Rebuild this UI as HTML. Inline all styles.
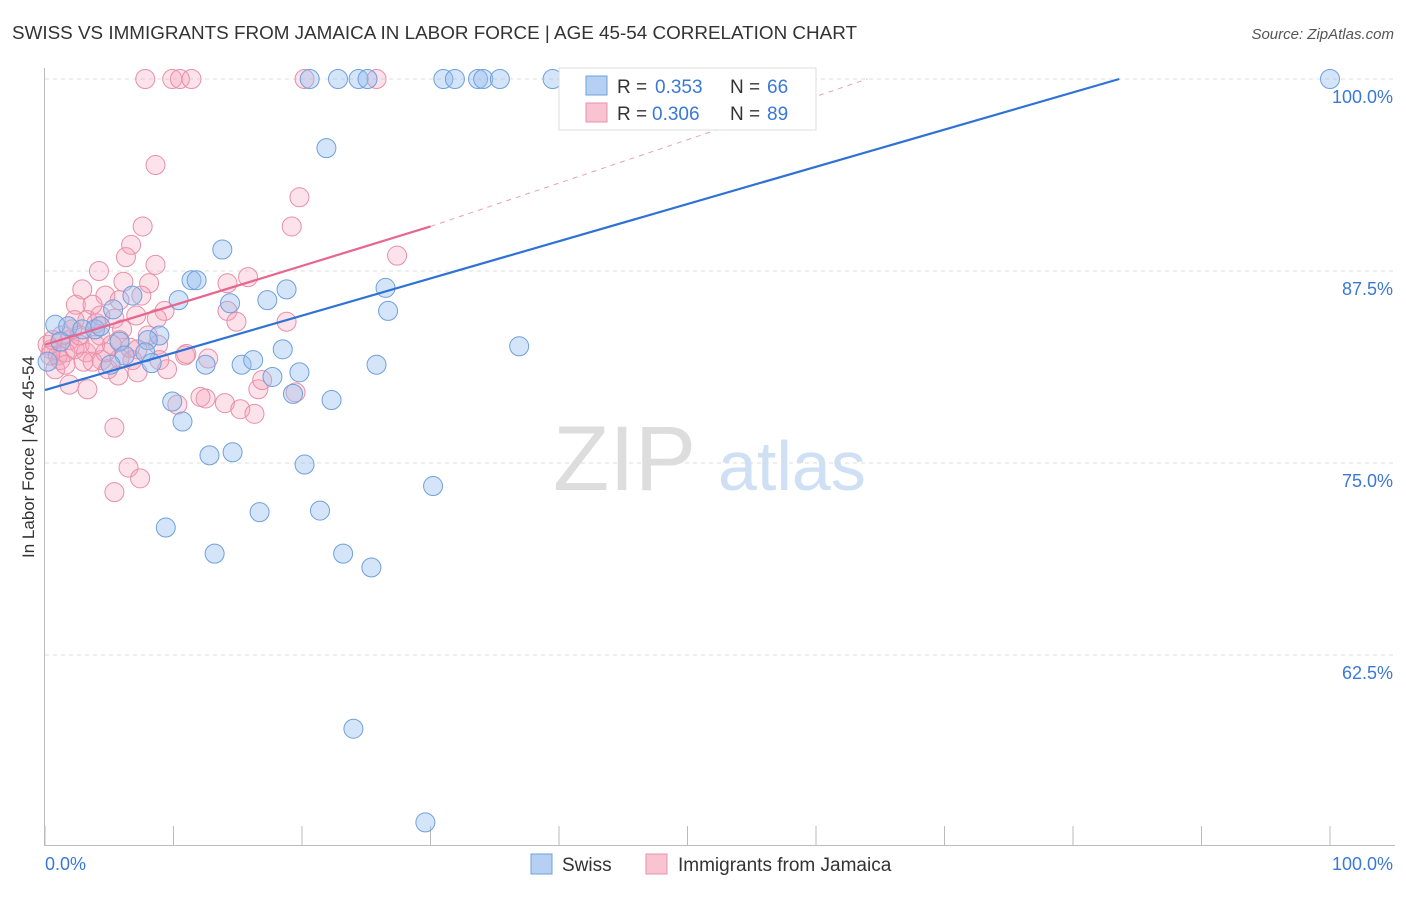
<!DOCTYPE html>
<html><head><meta charset="utf-8"><style>
body{margin:0;background:#fff;font-family:"Liberation Sans",sans-serif}
svg text{font-family:"Liberation Sans",sans-serif}
</style></head><body>
<svg id="chart" width="1406" height="892">
<text x="12" y="39" font-size="18" fill="#333" textLength="845" lengthAdjust="spacingAndGlyphs">SWISS VS IMMIGRANTS FROM JAMAICA IN LABOR FORCE | AGE 45-54 CORRELATION CHART</text>
<text x="1394" y="39" font-size="15" fill="#555" font-style="italic" text-anchor="end">Source: ZipAtlas.com</text>
<text transform="translate(34,457) rotate(-90)" font-size="17" fill="#333" text-anchor="middle">In Labor Force | Age 45-54</text>
<g><text x="553" y="490" font-size="92" fill="#ddd" font-family="Liberation Serif">ZIP</text><text x="718" y="490" font-size="70" fill="#cfe0f5">atlas</text></g>
<g id="grid"></g><g id="pts"></g><g id="lines"></g>
<g>
<rect x="559" y="68" width="257" height="62" fill="#fff" stroke="#ddd"/>
<rect x="586" y="76" width="21" height="19" fill="#b5d0f3" stroke="#6fa0dd"/>
<rect x="586" y="103" width="21" height="19" fill="#f8c4d2" stroke="#e890a8"/>
<text x="617" y="93" font-size="19" fill="#333">R =</text><text x="655" y="93" font-size="19" fill="#3a78d8">0.353</text>
<text x="730" y="93" font-size="19" fill="#333">N =</text><text x="767" y="93" font-size="19" fill="#3a78d8">66</text>
<text x="617" y="120" font-size="19" fill="#333">R =</text><text x="652" y="120" font-size="19" fill="#3a78d8">0.306</text>
<text x="730" y="120" font-size="19" fill="#333">N =</text><text x="767" y="120" font-size="19" fill="#3a78d8">89</text>
</g>
<g>
<rect x="531" y="854" width="21" height="20" fill="#b5d0f3" stroke="#6fa0dd"/>
<text x="562" y="871" font-size="19" fill="#333">Swiss</text>
<rect x="646" y="854" width="21" height="20" fill="#f8c4d2" stroke="#e890a8"/>
<text x="678" y="871" font-size="19" fill="#333">Immigrants from Jamaica</text>
</g>
</svg>
<script>
const yTicks=[100,87.5,75,62.5];
const yTickLabels=["100.0%","87.5%","75.0%","62.5%"];
const xTicks=[0,10,20,30,40,50,60,70,80,90,100];
const xEndLabels=["0.0%","100.0%"];
const swissX=[20.6,22.8,24.4,25.1,31.0,31.9,33.7,34.1,35.4,39.5,41.5,47.1,100,21.9,13.8,11.4,11.8,10.4,6.8,14.4,17.3,18.8,26.5,26.7,0.8,1.8,2.9,3.9,5.3,8.9,8.0,5.8,7.8,6.2,5.1,8.3,12.5,15.3,16.2,18.5,17.7,19.8,25.8,36.9,19.3,22.3,9.9,10.7,12.8,14.6,20.2,30.2,9.4,16.7,21.4,13.2,23.2,25.4,24.0,29.6,0.2,1.2,4.3];
const swissY=[100,100,100,100,100,100,100,100,100,100,100,100,100,95.5,88.9,86.9,86.9,85.6,85.9,85.4,85.6,86.3,86.4,84.9,84.0,83.9,83.7,83.7,85.0,83.3,83.0,82.9,82.2,82.0,81.4,81.5,81.4,81.4,81.7,82.4,80.6,80.9,81.4,82.6,79.5,79.1,79.0,77.7,75.5,75.7,74.9,73.5,70.8,71.8,71.9,69.1,69.1,68.2,57.7,51.6,81.6,82.9,83.9];
const jamX=[7.8,9.9,10.5,11.4,20.2,25.8,8.6,19.8,19.2,7.6,6.7,6.3,8.6,27.4,4.2,6.1,8.1,15.8,14.2,2.9,4.7,7.5,2.4,3.7,5.8,9.3,14.2,7.1,18.8,5.4,14.9,3.3,4.0,6.0,8.7,1.3,1.9,2.7,4.3,5.8,0.5,1.0,1.6,2.3,3.2,4.4,4.9,5.8,7.2,9.5,10.9,12.7,0.8,0.2,0.6,1.9,3.3,7.2,8.8,8.9,1.2,2.1,3.7,4.7,6.8,8.0,16.6,16.9,19.5,12.5,14.0,15.2,16.3,10.3,5.4,6.5,7.4,5.4,11.0,12.1,0.4,1.6,2.7,5.2,3.9,6.6,3.0,5.7,2.3,4.3];
const jamY=[100,100,100,100,100,100,94.4,92.3,90.4,90.4,89.2,88.4,87.9,88.5,87.5,86.8,86.7,87.1,86.7,86.3,85.9,85.9,85.3,85.3,85.6,84.9,84.9,84.6,84.2,84.4,84.2,84.3,84.1,83.7,84.4,83.3,83.0,82.7,83.3,83.0,82.4,82.0,82.2,82.4,82.2,81.7,81.1,81.8,80.9,81.1,82.0,81.8,81.1,82.7,83.0,80.1,79.8,82.4,82.7,81.7,81.7,83.7,81.6,82.2,81.7,83.3,79.8,80.4,79.6,79.2,78.9,78.5,78.2,78.8,77.3,74.7,74.0,73.1,82.1,79.3,82.0,81.4,83.3,82.7,82.7,82.5,81.6,80.7,84.3,84.6];
const swissTrend=[[0,79.75],[83.6,100]];
const jamTrendSolid=[[0,82.7],[30,90.4]];
const jamTrendDash=[[30,90.4],[64,100]];
const NS="http://www.w3.org/2000/svg";
const sx=v=>45+v*12.85, sy=v=>79+(100-v)*15.36;
function mk(t,a,p){const e=document.createElementNS(NS,t);for(const k in a)e.setAttribute(k,a[k]);p.appendChild(e);return e;}
const g=document.getElementById('grid');
const ax=mk('line',{x1:44.5,y1:68,x2:44.5,y2:845,stroke:'#bbb'},g);


const bx=mk('line',{x1:44,y1:845.5,x2:1395,y2:845.5,stroke:'#bbb'},g);


yTicks.forEach((v,i)=>{
 const l=mk('line',{x1:45,x2:1395,y1:sy(v),y2:sy(v),stroke:'#ddd','stroke-dasharray':'4,4'},g);
 
 
 const t=mk('text',{x:1393,y:sy(v)+24,'font-size':18,fill:'#3a78d8','text-anchor':'end'},g);
 t.textContent=yTickLabels[i];
 
 
});
xTicks.forEach(v=>{
 const l=mk('line',{x1:sx(v),x2:sx(v),y1:826,y2:845,stroke:'#bbb'},g);
 
 
});
[[0,'start',45],[100,'end',1393]].forEach((d,i)=>{
 const t=mk('text',{x:d[2],y:870,'font-size':18,fill:'#3a78d8','text-anchor':d[1]},g);
 t.textContent=xEndLabels[i];
 
 
});
const P=document.getElementById('pts');
jamX.forEach((x,i)=>{
 const c=mk('circle',{cx:sx(x),cy:sy(jamY[i]),r:9.5,fill:'rgba(245,160,185,0.3)',stroke:'#e890a8','stroke-width':1},P);
 
 
});
swissX.forEach((x,i)=>{
 const c=mk('circle',{cx:sx(x),cy:sy(swissY[i]),r:9.5,fill:'rgba(150,190,240,0.4)',stroke:'#6fa0dd','stroke-width':1},P);
 
 
});
const L=document.getElementById('lines');
function ln(p,c,w,d){const e=mk('line',{x1:sx(p[0][0]),y1:sy(p[0][1]),x2:sx(p[1][0]),y2:sy(p[1][1]),stroke:c,'stroke-width':w},L);if(d)e.setAttribute('stroke-dasharray',d);return e;}
const a=ln(swissTrend,'#2f72d6',2.2);


const b=ln(jamTrendSolid,'#e8658f',2.2);


const c=ln(jamTrendDash,'#eaa0b8',1,'5,5');


</script>
</body></html>
